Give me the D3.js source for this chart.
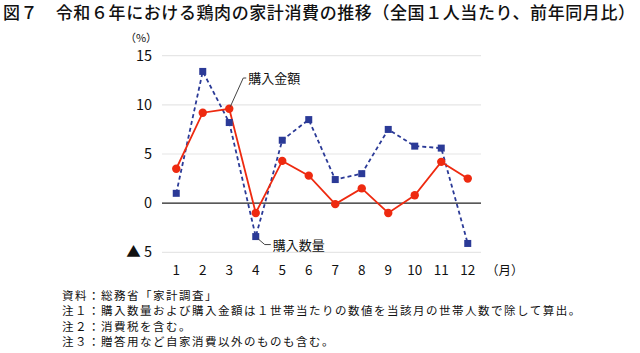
<!DOCTYPE html>
<html><head><meta charset="utf-8">
<script src="https://cdn.jsdelivr.net/npm/d3@7"></script>
<style>
html,body{margin:0;padding:0;background:#fff;}
svg{display:block;font-family:"Noto Sans CJK JP","Noto Sans",sans-serif;}
</style></head>
<body>
<svg id="c" width="640" height="353"></svg>
<script>
const months = ["1","2","3","4","5","6","7","8","9","10","11","12"];
const quantity = [1.0, 13.4, 8.2, -3.4, 6.4, 8.5, 2.4, 3.0, 7.5, 5.8, 5.6, -4.1];
const amount = [3.5, 9.2, 9.6, -1.0, 4.3, 2.8, -0.1, 1.5, -1.0, 0.8, 4.2, 2.5];
const yTicks = [15, 10, 5, 0, -5];
const yTickLabels = ["15", "10", "5", "0", "▲ 5"];
const title = "図７　令和６年における鶏肉の家計消費の推移（全国１人当たり、前年同月比）";
const notes = ["資料：総務省「家計調査」",
  "注１：購入数量および購入金額は１世帯当たりの数値を当該月の世帯人数で除して算出。",
  "注２：消費税を含む。",
  "注３：贈答用など自家消費以外のものも含む。"];

const svg = d3.select("#c");
const x = d3.scaleBand().domain(months).range([163, 481]);
const y = d3.scaleLinear().domain([-5, 15]).range([252.3, 55.7]);
const cx = d => x(d) + x.bandwidth() / 2;

svg.append("text").attr("x", 3).attr("y", 19).attr("font-size", 17).attr("font-weight", 500)
  .attr("fill", "#111").attr("textLength", 632).attr("lengthAdjust", "spacing").text(title);

// gridlines
svg.append("g").selectAll("line").data(yTicks.filter(v => v !== 0)).join("line")
  .attr("x1", 162).attr("x2", 481).attr("y1", d => y(d)).attr("y2", d => y(d))
  .attr("stroke", "#e6e6e6").attr("stroke-width", 1.2);

// y labels
svg.append("g").selectAll("text").data(yTicks).join("text")
  .attr("x", 152).attr("y", d => y(d) + 5).attr("text-anchor", "end")
  .attr("font-size", 14.5).attr("fill", "#111").text((d, i) => yTickLabels[i]);
svg.append("text").attr("x", 141).attr("y", 42).attr("text-anchor", "middle")
  .attr("font-size", 11).attr("fill", "#111").text("（%）");

// zero line
svg.append("line").attr("x1", 162).attr("x2", 481).attr("y1", y(0)).attr("y2", y(0))
  .attr("stroke", "#222").attr("stroke-width", 1.4);

// x labels
svg.append("g").selectAll("text").data(months).join("text")
  .attr("x", d => cx(d)).attr("y", 275).attr("text-anchor", "middle")
  .attr("font-size", 13.5).attr("fill", "#111").text(d => d);
svg.append("text").attr("x", 486).attr("y", 275).attr("font-size", 12.5).attr("fill", "#111").text("（月）");

const line = d3.line().x((d, i) => cx(months[i])).y(d => y(d));
const blue = "#2b3a97", red = "#ee2a10";

svg.append("path").attr("d", line(quantity)).attr("fill", "none").attr("stroke", blue)
  .attr("stroke-width", 1.8).attr("stroke-dasharray", "4,3");
svg.append("path").attr("d", line(amount)).attr("fill", "none").attr("stroke", red)
  .attr("stroke-width", 1.8);

svg.append("g").selectAll("rect").data(quantity).join("rect")
  .attr("x", (d, i) => cx(months[i]) - 3.5).attr("y", d => y(d) - 3.5)
  .attr("width", 7).attr("height", 7).attr("fill", blue);
svg.append("g").selectAll("circle").data(amount).join("circle")
  .attr("cx", (d, i) => cx(months[i])).attr("cy", d => y(d)).attr("r", 4.2).attr("fill", red);

// annotations
const p3 = [cx("3"), y(amount[2])];
svg.append("polyline").attr("points", `${p3[0]+1},${p3[1]-2} ${p3[0]+14},${78} ${p3[0]+17},${78}`)
  .attr("fill", "none").attr("stroke", "#444").attr("stroke-width", 1);
svg.append("text").attr("x", p3[0] + 19).attr("y", 83).attr("font-size", 13).attr("fill", "#111").text("購入金額");

const p4 = [cx("4"), y(quantity[3])];
svg.append("polyline").attr("points", `${p4[0]+2},${p4[1]+2} ${p4[0]+9},${p4[1]+8} ${p4[0]+15},${p4[1]+8}`)
  .attr("fill", "none").attr("stroke", "#444").attr("stroke-width", 1);
svg.append("text").attr("x", p4[0] + 17).attr("y", p4[1] + 13).attr("font-size", 13).attr("fill", "#111").text("購入数量");

svg.append("g").selectAll("text").data(notes).join("text")
  .attr("x", 62).attr("y", (d, i) => 300 + i * 15.3).attr("font-size", 11.5)
  .attr("letter-spacing", 1.5).attr("fill", "#111").text(d => d);
</script>
</body></html>
